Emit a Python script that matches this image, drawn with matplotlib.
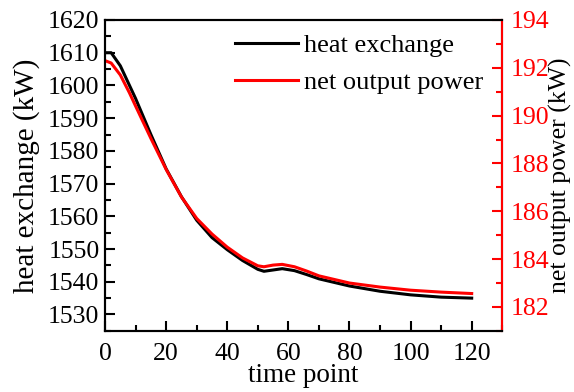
"""
Heat exchange and net output power against time point, two y axes.
"""

import matplotlib.pyplot as plt
from matplotlib.ticker import MultipleLocator

plt.rcParams['font.family'] = ['Liberation Serif', 'DejaVu Serif']

# Time points
TIME = [0, 2, 5, 8, 10, 15, 20, 25, 30, 35, 40, 45, 50, 52, 55, 58,
        62, 66, 70, 80, 90, 100, 110, 120]

# heat exchange (kW), left axis
HEAT = [1610, 1610, 1606, 1600, 1596, 1585, 1574.5, 1566, 1558.8, 1553.5,
        1549.8, 1546.5, 1543.8, 1543.2, 1543.6, 1544, 1543.4, 1542.2,
        1540.9, 1538.7, 1537.1, 1536, 1535.3, 1535]

# net output power (kW), right axis
POWER = [192.3, 192.2, 191.7, 190.95, 190.4, 189.05, 187.75, 186.6, 185.7,
         185.05, 184.5, 184.05, 183.72, 183.68, 183.75, 183.78, 183.68,
         183.5, 183.3, 183.0, 182.83, 182.7, 182.62, 182.56]


def plot_chart():
    fig = plt.figure(figsize=(5.74, 3.92), dpi=100)
    ax = fig.add_axes([0.183, 0.156, 0.692, 0.793])
    ax2 = ax.twinx()

    l1, = ax.plot(TIME, HEAT, color='black', lw=2.2, label='heat exchange')
    l2, = ax2.plot(TIME, POWER, color='red', lw=2.2, label='net output power')

    ax.set_xlim(0, 130)
    ax.set_ylim(1525, 1620)
    ax2.set_ylim(181, 194)

    ax.xaxis.set_minor_locator(MultipleLocator(10))
    ax.yaxis.set_major_locator(MultipleLocator(10))
    ax.yaxis.set_minor_locator(MultipleLocator(5))
    ax2.yaxis.set_major_locator(MultipleLocator(2))
    ax2.yaxis.set_minor_locator(MultipleLocator(1))
    ax.set_xticks([0, 20, 40, 60, 80, 100, 120])

    ax.tick_params(which='major', direction='in', length=7, width=1.5,
                   labelsize=18.5, top=False, right=False)
    ax.tick_params(axis='y', which='major', pad=4)
    ax.tick_params(axis='x', which='major', pad=8.5)
    ax.tick_params(which='minor', direction='in', length=4, width=1.5,
                   top=False, right=False)
    ax2.tick_params(which='major', direction='in', length=7, width=1.5,
                    labelsize=18.5, color='red', labelcolor='red', pad=6)
    ax2.tick_params(which='minor', direction='in', length=4, width=1.5,
                    color='red')

    for spine in ax.spines.values():
        spine.set_linewidth(1.5)
    for spine in ax2.spines.values():
        spine.set_linewidth(1.5)
    ax2.spines['right'].set_color('red')

    ax.set_xlabel('time point', fontsize=19.5, labelpad=-1)
    ax.set_ylabel('heat exchange (kW)', fontsize=21, labelpad=6)
    ax2.set_ylabel('net output power (kW)', fontsize=18.5, labelpad=0)

    fig.legend([l1, l2], ['heat exchange', 'net output power'],
               loc='upper left', bbox_to_anchor=(235 / 574, 1 - 34 / 392),
               bbox_transform=fig.transFigure, frameon=False,
               fontsize=19, handlelength=2.4, handletextpad=0.2,
               labelspacing=0.5, borderpad=0, borderaxespad=0)

    fig.savefig('out.png', dpi=100)


if __name__ == "__main__":
    plot_chart()
